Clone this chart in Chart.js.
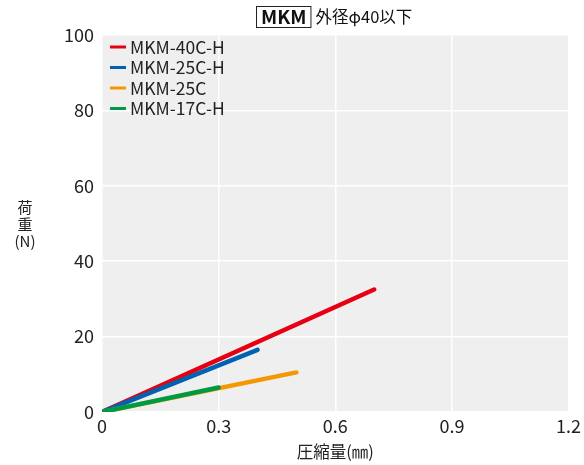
<!DOCTYPE html>
<html>
<head>
<meta charset="utf-8">
<script src="https://cdn.jsdelivr.net/npm/chart.js@4"></script>
<style>
  html, body { margin: 0; padding: 0; background: #fff; }
  #wrap { width: 584px; height: 465px; position: relative; }
</style>
</head>
<body>
<div id="wrap"><canvas id="chart"></canvas></div>
<script>
// series: compression (mm) -> load (N)
var seriesNames = ['MKM-40C-H', 'MKM-25C-H', 'MKM-25C', 'MKM-17C-H'];
var seriesColors = ['#e60012', '#0062b1', '#f39800', '#009a44'];
var xEnds = [0.7, 0.4, 0.5, 0.3];
var yEnds = [32.5, 16.5, 10.5, 6.5];
var xTicks = [0, 0.3, 0.6, 0.9, 1.2];
var yTicks = [0, 20, 40, 60, 80, 100];

var FONT = '"Noto Sans CJK JP", "Noto Sans", sans-serif';

var datasets = seriesNames.map(function (name, i) {
    return {
        label: name,
        data: [{ x: 0, y: 0 }, { x: xEnds[i], y: yEnds[i] }],
        borderColor: seriesColors[i],
        backgroundColor: seriesColors[i],
        borderWidth: 4.5,
        borderCapStyle: 'round',
        pointRadius: 0,
        fill: false,
        order: seriesNames.length - i   // later series painted on top
    };
});

var decor = {
    id: 'decor',
    beforeDraw: function (chart) {
        var ctx = chart.ctx, a = chart.chartArea;
        ctx.save();
        ctx.fillStyle = '#efefef';
        ctx.fillRect(a.left, a.top, a.right - a.left, a.bottom - a.top);
        ctx.restore();
    },
    afterDraw: function (chart) {
        var ctx = chart.ctx, a = chart.chartArea;
        ctx.save();
        // title
        ctx.fillStyle = '#111';
        ctx.font = 'bold 19px ' + FONT;
        ctx.textBaseline = 'middle';
        ctx.textAlign = 'left';
        ctx.fillText('MKM', 261, 17);
        var w = ctx.measureText('MKM').width;
        ctx.strokeStyle = '#222';
        ctx.lineWidth = 1;
        ctx.strokeRect(256.5, 6.5, w + 9, 21);
        ctx.font = '16.5px ' + FONT;
        ctx.fillText('外径φ40以下', 261 + w + 9, 17);

        // y axis title (stacked)
        ctx.font = '15px ' + FONT;
        ctx.textAlign = 'center';
        ctx.fillStyle = '#222';
        ctx.fillText('荷', 25, 207);
        ctx.fillText('重', 25, 224);
        ctx.font = '15px ' + FONT;
        ctx.fillText('(N)', 25, 241);

        // x axis title
        ctx.font = '16.5px ' + FONT;
        ctx.fillText('圧縮量(㎜)', (a.left + a.right) / 2, 452);

        // legend inside plot
        ctx.font = '17.5px ' + FONT;
        ctx.textAlign = 'left';
        chart.data.datasets.forEach(function (ds, i) {
            var y = 47 + i * 20.5;
            ctx.strokeStyle = ds.borderColor;
            ctx.lineWidth = 3;
            ctx.beginPath();
            ctx.moveTo(110, y);
            ctx.lineTo(126, y);
            ctx.stroke();
            ctx.fillStyle = '#222';
            ctx.fillText(ds.label, 130, y);
        });
        ctx.restore();
    }
};

new Chart(document.getElementById('chart'), {
    type: 'line',
    data: { datasets: datasets },
    plugins: [decor],
    options: {
        responsive: true,
        maintainAspectRatio: false,
        animation: false,
        layout: { padding: { top: 35, right: 14, left: 0, bottom: 0 } },
        plugins: { legend: { display: false }, tooltip: { enabled: false } },
        scales: {
            x: {
                type: 'linear',
                min: 0,
                max: 1.2,
                afterBuildTicks: function (s) {
                    s.ticks = xTicks.map(function (v) { return { value: v }; });
                },
                afterFit: function (s) { s.height = 53; },
                grid: { color: '#ffffff', lineWidth: 1.5, drawTicks: false },
                border: { display: false },
                ticks: {
                    color: '#222',
                    font: { family: FONT, size: 18 },
                    padding: 3,
                    maxRotation: 0,
                    callback: function (v) { return v === 0 ? '0' : v.toFixed(1); }
                }
            },
            y: {
                min: 0,
                max: 100,
                afterBuildTicks: function (s) {
                    s.ticks = yTicks.map(function (v) { return { value: v }; });
                },
                afterFit: function (s) { s.width = 102; },
                grid: { color: '#ffffff', lineWidth: 1.5, drawTicks: false },
                border: { display: false },
                ticks: {
                    color: '#222',
                    font: { family: FONT, size: 18 },
                    padding: 8
                }
            }
        }
    }
});
</script>
</body>
</html>
